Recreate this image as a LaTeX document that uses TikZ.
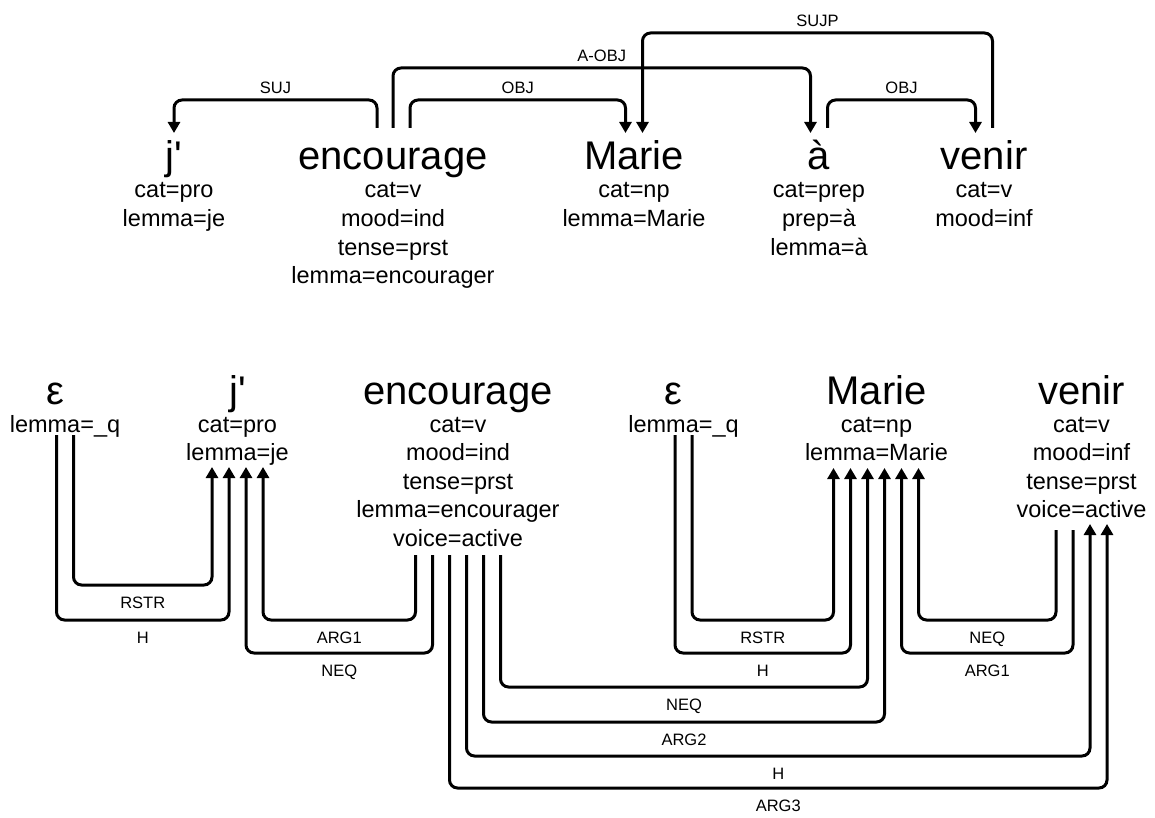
\documentclass[tikz,border=0pt]{standalone}
\usepackage{fontspec}
\setmainfont{Liberation Sans}
\usetikzlibrary{arrows.meta}

\begin{document}
\begin{tikzpicture}[x=1pt,y=-1pt,
  word/.style={font=\fontsize{40}{48}\selectfont,anchor=base,inner sep=0pt},
  attr/.style={font=\fontsize{23.5}{28}\selectfont,anchor=base,inner sep=0pt},
  lbl/.style={font=\fontsize{16.5}{20}\selectfont,anchor=base,inner sep=0pt},
  dep/.style={line width=3pt,rounded corners=8pt},
  arc/.style={dep,-{Triangle[length=11pt,width=12pt]}}]
\useasboundingbox (0,0) rectangle (1155,818);

% surface dependency tree
\node[word] (tj) at (174,170) {j\textquotesingle};
\node[word] (tenc) at (393,170) {encourage};
\node[word] (tmar) at (634,170) {Marie};
\node[word] (ta) at (819,170) {à};
\node[word] (tven) at (984,170) {venir};
\foreach \t [count=\i from 0] in {cat=pro,lemma=je}
  \node[attr] (tj-\i) at (174,198+28.5*\i) {\t};
\foreach \t [count=\i from 0] in {cat=v,mood=ind,tense=prst,lemma=encourager}
  \node[attr] (tenc-\i) at (393,198+28.5*\i) {\t};
\foreach \t [count=\i from 0] in {cat=np,lemma=Marie}
  \node[attr] (tmar-\i) at (634,198+28.5*\i) {\t};
\foreach \t [count=\i from 0] in {cat=prep,prep=à,lemma=à}
  \node[attr] (ta-\i) at (819,198+28.5*\i) {\t};
\foreach \t [count=\i from 0] in {cat=v,mood=inf}
  \node[attr] (tven-\i) at (984,198+28.5*\i) {\t};

\coordinate (tj-in) at (174,133);
\coordinate (tenc-o1) at (377,128); \coordinate (tenc-o2) at (393,128); \coordinate (tenc-o3) at (410,128);
\coordinate (tmar-i1) at (625.5,133); \coordinate (tmar-i2) at (642.5,133);
\coordinate (ta-in) at (810.5,133); \coordinate (ta-out) at (827.5,128);
\coordinate (tven-in) at (975.5,133); \coordinate (tven-out) at (992.5,128);

\draw[arc] (tenc-o1) -- (tenc-o1 |- 0,100) -| node[lbl,pos=0.25,yshift=6pt] (l-suj) {SUJ} (tj-in);
\draw[arc] (tenc-o3) -- (tenc-o3 |- 0,100) -| node[lbl,pos=0.25,yshift=6pt] (l-obj1) {OBJ} (tmar-i1);
\draw[arc] (tenc-o2) -- (tenc-o2 |- 0,68) -| node[lbl,pos=0.25,yshift=6pt] (l-aobj) {A-OBJ} (ta-in);
\draw[arc] (tven-out) -- (tven-out |- 0,33) -| node[lbl,pos=0.25,yshift=6pt] (l-sujp) {SUJP} (tmar-i2);
\draw[arc] (ta-out) -- (ta-out |- 0,100) -| node[lbl,pos=0.25,yshift=6pt] (l-obj2) {OBJ} (tven-in);

% semantic graph
\node[word] (bq1) at (55,404) {ε};
\node[word] (bj) at (237.5,404) {j\textquotesingle};
\node[word] (benc) at (458,404) {encourage};
\node[word] (bq2) at (673.5,404) {ε};
\node[word] (bmar) at (876.5,404) {Marie};
\node[word] (bven) at (1081.5,404) {venir};
\foreach \t [count=\i from 0] in {lemma=\_q}
  \node[attr] (bq1-\i) at (65,432+28.5*\i) {\t};
\foreach \t [count=\i from 0] in {cat=pro,lemma=je}
  \node[attr] (bj-\i) at (237.5,432+28.5*\i) {\t};
\foreach \t [count=\i from 0] in {cat=v,mood=ind,tense=prst,lemma=encourager,voice=active}
  \node[attr] (benc-\i) at (458,432+28.5*\i) {\t};
\foreach \t [count=\i from 0] in {lemma=\_q}
  \node[attr] (bq2-\i) at (683.5,432+28.5*\i) {\t};
\foreach \t [count=\i from 0] in {cat=np,lemma=Marie}
  \node[attr] (bmar-\i) at (876.5,432+28.5*\i) {\t};
\foreach \t [count=\i from 0] in {cat=v,mood=inf,tense=prst,voice=active}
  \node[attr] (bven-\i) at (1081.5,432+28.5*\i) {\t};

\coordinate (bq1-o1) at (56.5,435); \coordinate (bq1-o2) at (73.5,435);
\coordinate (bj-i1) at (212,467); \coordinate (bj-i2) at (229,467);
\coordinate (bj-i3) at (246,467); \coordinate (bj-i4) at (263,467);
\coordinate (benc-o1) at (415.5,555); \coordinate (benc-o2) at (432.5,555);
\coordinate (benc-o3) at (449.5,555); \coordinate (benc-o4) at (466.5,555);
\coordinate (benc-o5) at (483.5,555); \coordinate (benc-o6) at (500.5,555);
\coordinate (bq2-o1) at (675,435); \coordinate (bq2-o2) at (692,435);
\coordinate (bmar-i1) at (833.5,468); \coordinate (bmar-i2) at (850.5,468);
\coordinate (bmar-i3) at (867.5,468); \coordinate (bmar-i4) at (884.5,468);
\coordinate (bmar-i5) at (901.5,468); \coordinate (bmar-i6) at (918.5,468);
\coordinate (bven-o1) at (1056,530); \coordinate (bven-o2) at (1073,530);
\coordinate (bven-i1) at (1090,524); \coordinate (bven-i2) at (1107,524);

\draw[arc] (bq1-o2) -- (bq1-o2 |- 0,585) -| node[lbl,pos=0.25,yshift=-23pt] (l-rstr1) {RSTR} (bj-i1);
\draw[arc] (bq1-o1) -- (bq1-o1 |- 0,620) -| node[lbl,pos=0.25,yshift=-23pt] (l-h1) {H} (bj-i2);
\draw[arc] (benc-o1) -- (benc-o1 |- 0,620) -| node[lbl,pos=0.25,yshift=-23pt] (l-arg1a) {ARG1} (bj-i4);
\draw[arc] (benc-o2) -- (benc-o2 |- 0,653) -| node[lbl,pos=0.25,yshift=-23pt] (l-neq1) {NEQ} (bj-i3);
\draw[arc] (benc-o3) -- (benc-o3 |- 0,788) -| node[lbl,pos=0.25,yshift=-23pt] (l-arg3) {ARG3} (bven-i2);
\draw[arc] (benc-o4) -- (benc-o4 |- 0,756) -| node[lbl,pos=0.25,yshift=-23pt] (l-h3) {H} (bven-i1);
\draw[arc] (benc-o5) -- (benc-o5 |- 0,722) -| node[lbl,pos=0.25,yshift=-23pt] (l-arg2) {ARG2} (bmar-i4);
\draw[arc] (benc-o6) -- (benc-o6 |- 0,687) -| node[lbl,pos=0.25,yshift=-23pt] (l-neq2) {NEQ} (bmar-i3);
\draw[arc] (bq2-o2) -- (bq2-o2 |- 0,620) -| node[lbl,pos=0.25,yshift=-23pt] (l-rstr2) {RSTR} (bmar-i1);
\draw[arc] (bq2-o1) -- (bq2-o1 |- 0,653) -| node[lbl,pos=0.25,yshift=-23pt] (l-h2) {H} (bmar-i2);
\draw[arc] (bven-o1) -- (bven-o1 |- 0,620) -| node[lbl,pos=0.25,yshift=-23pt] (l-neq3) {NEQ} (bmar-i6);
\draw[arc] (bven-o2) -- (bven-o2 |- 0,653) -| node[lbl,pos=0.25,yshift=-23pt] (l-arg1b) {ARG1} (bmar-i5);
\end{tikzpicture}
\end{document}
